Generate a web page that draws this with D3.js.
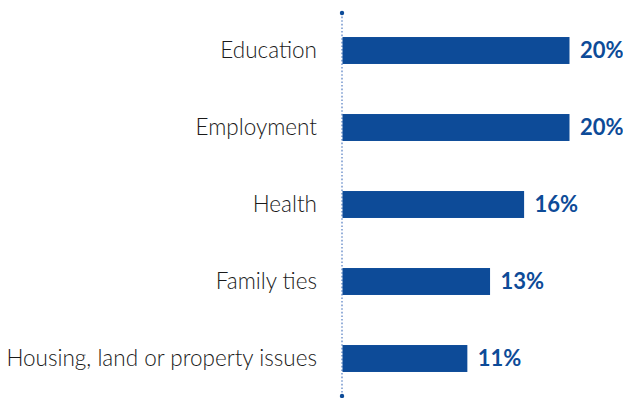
<!DOCTYPE html>
<html>
<head>
<meta charset="utf-8">
<script src="https://cdn.jsdelivr.net/npm/d3@7"></script>
<style>
  html, body { margin: 0; padding: 0; background: #fff; }
  svg { display: block; }
</style>
</head>
<body>
<svg id="chart" width="623" height="398"></svg>
<script>
// Reasons reported, share of respondents (%)
const categories = ["Education", "Employment", "Health", "Family ties", "Housing, land or property issues"];
const values = [20, 20, 16, 13, 11];
const valueLabels = ["20%", "20%", "16%", "13%", "11%"];

const width = 623, height = 398;
const axisX = 342;
const barColor = "#0d4b98";

const svg = d3.select("#chart");

const x = d3.scaleLinear().domain([0, 20]).range([axisX, axisX + 227]);
const y = d3.scaleBand()
  .domain(categories)
  .range([12, 397])
  .paddingInner(0.65)
  .paddingOuter(0.325);

// dotted baseline with end caps
svg.append("line")
  .attr("x1", axisX).attr("x2", axisX)
  .attr("y1", 13).attr("y2", 396)
  .attr("stroke", "#5f86c6")
  .attr("stroke-width", 1.3)
  .attr("stroke-dasharray", "1.6,2");
svg.selectAll("circle.cap")
  .data([13, 396])
  .join("circle")
  .attr("class", "cap")
  .attr("cx", axisX).attr("cy", d => d)
  .attr("r", 2.2)
  .attr("fill", barColor);

// bars
svg.selectAll("rect.bar")
  .data(values)
  .join("rect")
  .attr("class", "bar")
  .attr("x", axisX + 0.5)
  .attr("y", (d, i) => y(categories[i]))
  .attr("width", d => x(d) - axisX)
  .attr("height", y.bandwidth())
  .attr("fill", barColor);

// category labels
svg.selectAll("text.cat")
  .data(categories)
  .join("text")
  .attr("class", "cat")
  .attr("x", 317)
  .attr("y", d => y(d) + y.bandwidth() / 2)
  .attr("dy", "0.35em")
  .attr("text-anchor", "end")
  .attr("font-family", "Lato, 'Open Sans', sans-serif")
  .attr("font-weight", 300)
  .attr("font-size", 22.5)
  .attr("fill", "#1a1a1a")
  .text(d => d);

// value labels
svg.selectAll("text.val")
  .data(values)
  .join("text")
  .attr("class", "val")
  .attr("x", d => x(d) + 11)
  .attr("y", (d, i) => y(categories[i]) + y.bandwidth() / 2)
  .attr("dy", "0.36em")
  .attr("font-family", "Lato, 'Open Sans', sans-serif")
  .attr("font-weight", 700)
  .attr("font-size", 22)
  .attr("fill", barColor)
  .text((d, i) => valueLabels[i]);
</script>
</body>
</html>
